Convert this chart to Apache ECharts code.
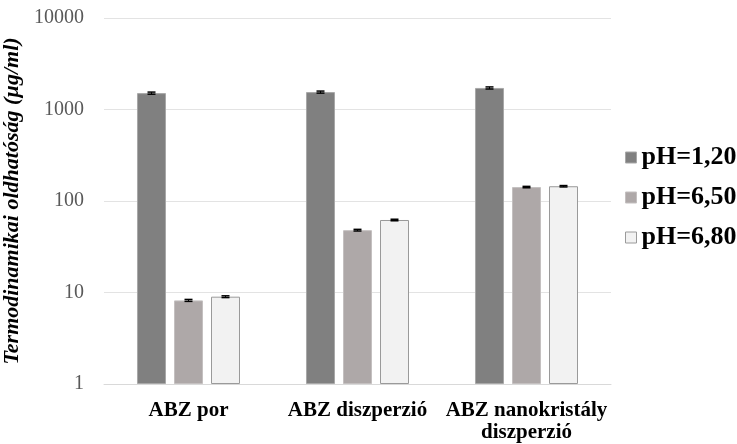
<!DOCTYPE html>
<html>
<head>
<meta charset="utf-8">
<script src="https://cdn.jsdelivr.net/npm/echarts@6/dist/echarts.min.js"></script>
<style>
html,body{margin:0;padding:0;background:#fff;}
#chart{width:737px;height:444px;}
</style>
</head>
<body>
<div id="chart"></div>
<script>
// Solubility data (µg/ml), log scale
var categories = ['ABZ por', 'ABZ diszperzió', 'ABZ nanokristály\ndiszperzió'];
var seriesNames = ['pH=1,20', 'pH=6,50', 'pH=6,80'];
var ph120 = [1510, 1550, 1720];
var ph650 = [8.2, 48, 142];
var ph680 = [9.0, 62, 145];
var err120 = [40, 40, 45];
var err650 = [0.2, 1.0, 2.5];
var err680 = [0.2, 1.2, 2.5];
var yTicks = [1, 10, 100, 1000, 10000];

var colors = ['#808080', '#aea8a8', '#f2f2f2'];
var borders = ['#a8a8a8', '#c4c0c0', '#9a9a9a'];
var values = [ph120, ph650, ph680];
var errors = [err120, err650, err680];

var BAR_W = 29, BAR_STEP = 37;

var chart = echarts.init(document.getElementById('chart'));
var series = [];
values.forEach(function (vals, i) {
  series.push({
    name: seriesNames[i],
    type: 'bar',
    data: vals,
    barWidth: BAR_W,
    barGap: ((BAR_STEP - BAR_W) / BAR_W * 100).toFixed(1) + '%',
    itemStyle: { color: colors[i], borderColor: borders[i], borderWidth: 1 }
  });
});
// error bars drawn on top of each bar
values.forEach(function (vals, i) {
  series.push({
    type: 'custom',
    silent: true,
    z: 5,
    data: vals.map(function (v, k) { return [k, v, errors[i][k]]; }),
    renderItem: function (params, api) {
      var k = api.value(0), v = api.value(1), e = api.value(2);
      var c = api.coord([k, v]);
      var x = c[0] + (i - 1) * BAR_STEP;
      var yHi = api.coord([k, v + e])[1];
      var yLo = api.coord([k, v - e])[1];
      var hw = 4;
      return {
        type: 'group',
        children: [
          { type: 'line', shape: { x1: x, y1: yHi, x2: x, y2: yLo }, style: { stroke: '#000', lineWidth: 1 } },
          { type: 'line', shape: { x1: x - hw, y1: yHi, x2: x + hw, y2: yHi }, style: { stroke: '#000', lineWidth: 1.5 } },
          { type: 'line', shape: { x1: x - hw, y1: yLo, x2: x + hw, y2: yLo }, style: { stroke: '#000', lineWidth: 1.5 } }
        ]
      };
    }
  });
});

chart.setOption({
  animation: false,
  textStyle: { fontFamily: 'Liberation Serif' },
  grid: { left: 104, right: 126, top: 18, bottom: 60, outerBoundsMode: 'none', containLabel: false },
  legend: {
    orient: 'vertical',
    left: 620,
    top: 139,
    itemGap: 13,
    itemWidth: 11,
    itemHeight: 11,
    data: seriesNames.map(function (n, i) {
      return { name: n, icon: 'rect', itemStyle: { color: colors[i], borderColor: borders[i], borderWidth: 1 } };
    }),
    textStyle: { fontFamily: 'Liberation Serif', fontWeight: 'bold', fontSize: 26, lineHeight: 27, color: '#000', padding: [0, 0, 0, 0] }
  },
  xAxis: {
    type: 'category',
    data: categories,
    axisLine: { lineStyle: { color: '#d9d9d9', width: 1 } },
    axisTick: { show: false },
    axisLabel: {
      fontFamily: 'Liberation Serif', fontWeight: 'bold', fontSize: 21, color: '#000',
      margin: 16, lineHeight: 22, interval: 0
    }
  },
  yAxis: {
    type: 'log',
    logBase: 10,
    min: yTicks[0],
    max: yTicks[yTicks.length - 1],
    name: 'Termodinamikai oldhatóság (µg/ml)',
    nameLocation: 'middle',
    nameGap: 78,
    nameTextStyle: { fontFamily: 'Liberation Serif', fontWeight: 'bold', fontStyle: 'italic', fontSize: 22, color: '#000' },
    axisLine: { show: false },
    axisTick: { show: false },
    splitLine: { lineStyle: { color: '#e3e3e3', width: 1 } },
    axisLabel: {
      fontFamily: 'Liberation Serif', fontSize: 20, color: '#595959', margin: 20,
      formatter: function (v) { return String(Math.round(v)); }
    }
  },
  series: series
});
</script>
</body>
</html>
